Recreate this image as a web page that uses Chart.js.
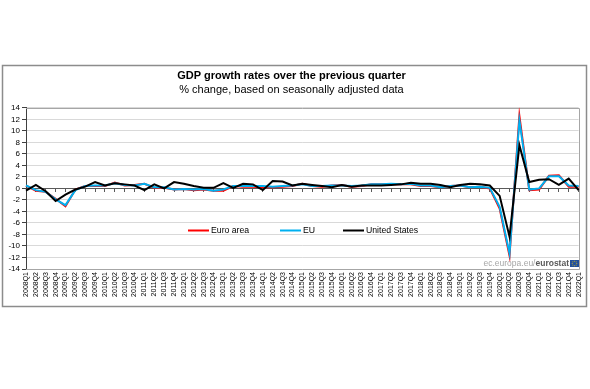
<!DOCTYPE html>
<html><head><meta charset="utf-8">
<script src="https://cdn.jsdelivr.net/npm/chart.js@4/dist/chart.umd.min.js"></script>
<style>html,body{margin:0;padding:0;background:#fff;} canvas{display:block;}</style>
</head><body><canvas id="c" width="590" height="389"></canvas>
<script>
const quarters = ['2008Q1','2008Q2','2008Q3','2008Q4','2009Q1','2009Q2','2009Q3','2009Q4',
 '2010Q1','2010Q2','2010Q3','2010Q4','2011Q1','2011Q2','2011Q3','2011Q4',
 '2012Q1','2012Q2','2012Q3','2012Q4','2013Q1','2013Q2','2013Q3','2013Q4',
 '2014Q1','2014Q2','2014Q3','2014Q4','2015Q1','2015Q2','2015Q3','2015Q4',
 '2016Q1','2016Q2','2016Q3','2016Q4','2017Q1','2017Q2','2017Q3','2017Q4',
 '2018Q1','2018Q2','2018Q3','2018Q4','2019Q1','2019Q2','2019Q3','2019Q4',
 '2020Q1','2020Q2','2020Q3','2020Q4','2021Q1','2021Q2','2021Q3','2021Q4','2022Q1'];
const euroArea = [0.5,-0.4,-0.6,-1.8, -3.1,-0.2,0.4,0.4, 0.4,1.0,0.5,0.6, 0.8,0.1,0.1,-0.2,
 -0.1,-0.3,-0.2,-0.4, -0.4,0.4,0.3,0.3, 0.2,0.2,0.3,0.4, 0.8,0.4,0.3,0.5,
 0.6,0.3,0.4,0.7, 0.7,0.7,0.7,0.7, 0.4,0.4,0.2,0.4, 0.5,0.2,0.3,0.0,
 -3.5,-11.7,12.6,-0.3, -0.2,2.2,2.3,0.3, 0.3];
const eu = [0.5,-0.3,-0.6,-1.9, -2.9,-0.3,0.4,0.5, 0.5,0.9,0.6,0.5, 0.8,0.2,0.2,-0.2,
 -0.1,-0.2,-0.1,-0.4, -0.2,0.4,0.4,0.4, 0.4,0.3,0.4,0.5, 0.7,0.4,0.4,0.5,
 0.5,0.4,0.5,0.7, 0.7,0.8,0.7,0.8, 0.5,0.5,0.2,0.4, 0.5,0.2,0.3,0.1,
 -3.2,-11.3,11.8,-0.2, 0.0,2.1,2.1,0.5, 0.4];
const unitedStates = [-0.4,0.6,-0.5,-2.2, -1.1,-0.2,0.3,1.1, 0.5,0.9,0.7,0.5, -0.3,0.7,0.0,1.1,
 0.8,0.4,0.1,0.1, 0.9,0.1,0.8,0.7, -0.3,1.3,1.2,0.5, 0.8,0.6,0.4,0.2,
 0.6,0.3,0.5,0.5, 0.5,0.6,0.7,1.0, 0.8,0.8,0.6,0.2, 0.6,0.8,0.7,0.5,
 -1.3,-8.4,7.5,1.1, 1.5,1.6,0.6,1.7, -0.3];
const seriesNames = ['Euro area','EU','United States'];
const yMin = -14, yMax = 14, yStep = 2;
const titleText = 'GDP growth rates over the previous quarter';
const subtitleText = '% change, based on seasonally adjusted data';
const sourceText = ['ec.europa.eu/','eurostat'];

const FONT = "'Liberation Sans', Arial, sans-serif";

const framePlugin = {
  id: 'frame',
  beforeDraw(chart) {
    const ctx = chart.ctx;
    ctx.save();
    ctx.fillStyle = '#fff';
    ctx.fillRect(0, 0, chart.width, chart.height);
    ctx.strokeStyle = '#8c8c8c';
    ctx.lineWidth = 1.5;
    ctx.strokeRect(2.5, 65.5, 584, 241);
    ctx.restore();
  },
  beforeDatasetsDraw(chart) {
    const ctx = chart.ctx, a = chart.chartArea;
    ctx.save();
    ctx.strokeStyle = '#a6a6a6';
    ctx.lineWidth = 1;
    ctx.beginPath();
    ctx.moveTo(a.left, Math.round(a.top) + 0.5);
    ctx.lineTo(Math.round(a.right) + 0.5, Math.round(a.top) + 0.5);
    ctx.lineTo(Math.round(a.right) + 0.5, Math.round(a.bottom) + 0.5);
    ctx.lineTo(a.left, Math.round(a.bottom) + 0.5);
    ctx.stroke();
    ctx.restore();
  },
  afterDraw(chart) {
    const ctx = chart.ctx;
    ctx.save();
    const xs = [188, 280, 343];
    const ly = 230.5;
    ctx.font = '8.7px ' + FONT;
    ctx.textBaseline = 'middle';
    ctx.textAlign = 'left';
    chart.data.datasets.forEach((ds, i) => {
      ctx.strokeStyle = ds.borderColor;
      ctx.lineWidth = 2;
      ctx.beginPath();
      ctx.moveTo(xs[i], ly);
      ctx.lineTo(xs[i] + 21, ly);
      ctx.stroke();
      ctx.fillStyle = '#000';
      ctx.fillText(ds.label, xs[i] + 23, ly + 0.5);
    });
    const fx = 570, fy = 260;
    ctx.fillStyle = '#1f4e9c';
    ctx.fillRect(fx, fy, 9, 7);
    ctx.fillStyle = '#ffd200';
    for (let k = 0; k < 8; k++) {
      const ang = k / 8 * Math.PI * 2;
      ctx.fillRect(fx + 4.5 + Math.cos(ang) * 2.3 - 0.4, fy + 3.5 + Math.sin(ang) * 2.3 - 0.4, 0.8, 0.8);
    }
    ctx.textAlign = 'right';
    ctx.font = 'bold 8.5px ' + FONT;
    ctx.fillStyle = '#595959';
    const w2 = ctx.measureText(sourceText[1]).width;
    ctx.fillText(sourceText[1], fx - 1, fy + 4);
    ctx.font = '8.5px ' + FONT;
    ctx.fillStyle = '#a6a6a6';
    ctx.fillText(sourceText[0], fx - 1 - w2, fy + 4);
    ctx.restore();
  }
};

new Chart(document.getElementById('c'), {
  type: 'line',
  data: {
    labels: quarters,
    datasets: [
      {label: seriesNames[0], data: euroArea, borderColor: '#ff0000', order: 3},
      {label: seriesNames[1], data: eu, borderColor: '#00b0f0', order: 2},
      {label: seriesNames[2], data: unitedStates, borderColor: '#000000', order: 1}
    ]
  },
  options: {
    responsive: false,
    animation: false,
    devicePixelRatio: 1,
    layout: {padding: {left: 0, right: 7, top: 0, bottom: 79}},
    elements: {
      line: {borderWidth: 2, tension: 0, fill: false},
      point: {radius: 0, hoverRadius: 0}
    },
    plugins: {
      legend: {display: false},
      tooltip: {enabled: false},
      title: {display: true, text: titleText, color: '#000',
        font: {family: FONT, size: 11, weight: 'bold', lineHeight: 1.2},
        padding: {top: 69.5, bottom: 0.3}},
      subtitle: {display: true, text: subtitleText, color: '#000',
        font: {family: FONT, size: 11, weight: 'normal', lineHeight: 1.2},
        padding: {top: 0, bottom: 11.6}}
    },
    scales: {
      x: {
        type: 'category',
        position: 'bottom',
        offset: false,
        grid: {display: false, drawTicks: false},
        border: {display: false},
        ticks: {autoSkip: false, maxRotation: 90, minRotation: 90, padding: 3,
          color: '#000', font: {family: FONT, size: 7}},
        afterFit(s) { s.height = 41; }
      },
      x0: {
        type: 'category',
        position: {y: 0},
        offset: false,
        grid: {drawOnChartArea: false, drawTicks: true, tickLength: 3, tickColor: '#595959', offset: false},
        border: {display: true, color: '#595959', width: 1},
        ticks: {display: false, autoSkip: false}
      },
      y: {
        min: yMin, max: yMax,
        ticks: {stepSize: yStep, autoSkip: false, padding: 2, color: '#000', font: {family: FONT, size: 8}},
        grid: {color: '#d9d9d9', lineWidth: 1, tickLength: 4, tickColor: '#404040'},
        border: {display: true, color: '#404040', width: 1},
        afterFit(s) { s.width = 26; }
      }
    }
  },
  plugins: [framePlugin]
});
</script>
</body></html>
